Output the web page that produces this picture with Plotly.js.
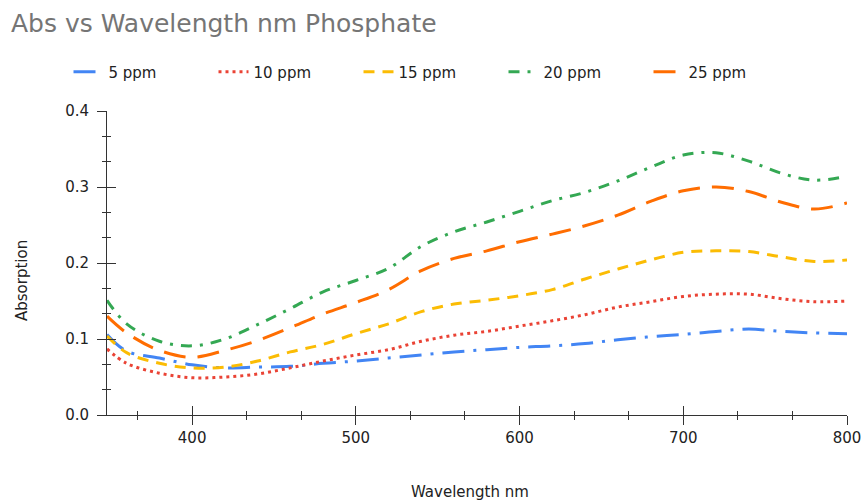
<!DOCTYPE html>
<html>
<head>
<meta charset="utf-8">
<script src="https://cdn.plot.ly/plotly-3.0.1.min.js"></script>
<style>html,body{margin:0;padding:0;background:#fff;}#chart{width:862px;height:500px;}</style>
</head>
<body>
<div id="chart"></div>
<script>
// Wavelength (nm)
const wavelength = [348,360,380,400,420,440,460,480,500,520,540,560,580,600,620,640,660,680,700,720,740,760,780,800];
// Absorption series
const ppm5  = [0.106,0.084,0.075,0.066,0.062,0.063,0.064,0.068,0.071,0.075,0.079,0.083,0.086,0.089,0.091,0.094,0.099,0.103,0.106,0.110,0.113,0.110,0.108,0.107];
const ppm10 = [0.087,0.068,0.055,0.049,0.050,0.054,0.062,0.071,0.079,0.086,0.097,0.105,0.110,0.117,0.124,0.132,0.142,0.149,0.156,0.159,0.159,0.153,0.149,0.150];
const ppm15 = [0.104,0.082,0.068,0.062,0.063,0.071,0.083,0.093,0.107,0.120,0.136,0.146,0.151,0.157,0.165,0.179,0.192,0.204,0.214,0.216,0.215,0.208,0.202,0.204];
const ppm20 = [0.151,0.120,0.097,0.091,0.100,0.119,0.140,0.162,0.177,0.193,0.222,0.241,0.254,0.268,0.282,0.293,0.308,0.326,0.342,0.345,0.334,0.318,0.309,0.314];
const ppm25 = [0.130,0.108,0.085,0.076,0.085,0.098,0.115,0.133,0.148,0.165,0.190,0.206,0.216,0.228,0.238,0.249,0.263,0.281,0.295,0.300,0.294,0.280,0.271,0.279];
const seriesNames = ['5 ppm','10 ppm','15 ppm','20 ppm','25 ppm'];
const xTickVals = [400,500,600,700,800];
const yTickVals = [0,0.1,0.2,0.3,0.4];

const FONT = 'DejaVu Sans, Arial, sans-serif';
const colors = ['#4285F4','#EA4335','#FBBC04','#34A853','#FF6D01'];
const dashes = ['22px,9px,3px,9px','3px,4px','11px,8px','11px,8px,3px,8px','22px,12px'];
const data = [ppm5,ppm10,ppm15,ppm20,ppm25].map((ys,i)=>({
  type:'scatter', mode:'lines', name:seriesNames[i], x:wavelength, y:ys,
  line:{color:colors[i], width:3, dash:dashes[i], shape:'spline', smoothing:1}
}));
// invisible carrier trace so the overlaid (inside-tick) axes get drawn
data.push({type:'scatter', mode:'none', x:[xTickVals[0]], y:[yTickVals[0]], xaxis:'x2', yaxis:'y2', showlegend:false, hoverinfo:'skip'});

const xMinor=[], yMinor=[];
for (let k=-3;k<=12;k++){ const v=400+k*100/3; if (k%3!==0 && v>=348 && v<=800) xMinor.push(v); }
for (let k=1;k<12;k++){ if (k%3!==0) yMinor.push(k*0.1/3); }

const axCommon = {showgrid:false, zeroline:false, linecolor:'#333', linewidth:1, tickcolor:'#333', tickwidth:1};
const layout = {
  width:862, height:500,
  margin:{l:107, r:15, t:111, b:85},
  paper_bgcolor:'#fff', plot_bgcolor:'#fff',
  font:{family:FONT, color:'#222', size:15},
  title:{text:'Abs vs Wavelength nm Phosphate', font:{family:FONT, size:25, color:'#757575'},
         x:11/862, xanchor:'left', xref:'container', y:1-23/500, yanchor:'middle', yref:'container'},
  showlegend:true,
  legend:{orientation:'h', xref:'container', yref:'container', x:0.5, xanchor:'center', y:1-72/500, yanchor:'middle',
          font:{family:FONT, size:15, color:'#222'}, entrywidth:100},
  xaxis:Object.assign({}, axCommon, {range:[348,800], tickmode:'array', tickvals:xTickVals, ticks:'outside', ticklen:9,
         showline:true, tickfont:{family:FONT,size:15,color:'#222'},
         minor:{tickmode:'array', tickvals:xMinor, ticks:'outside', ticklen:4, tickcolor:'#333'}}),
  yaxis:Object.assign({}, axCommon, {range:[0,0.4], tickmode:'array', tickvals:yTickVals, tickformat:'.1f', ticks:'outside', ticklen:9,
         showline:true, tickfont:{family:FONT,size:15,color:'#222'}, ticklabelstandoff:5,
         minor:{tickmode:'array', tickvals:yMinor, ticks:'outside', ticklen:4, tickcolor:'#333'}}),
  xaxis2:Object.assign({}, axCommon, {overlaying:'x', matches:'x', anchor:'y2', side:'bottom', tickmode:'array', tickvals:xTickVals,
         ticks:'inside', ticklen:9, showticklabels:false, showline:false,
         minor:{tickmode:'array', tickvals:xMinor, ticks:'inside', ticklen:4, tickcolor:'#333'}}),
  yaxis2:Object.assign({}, axCommon, {overlaying:'y', matches:'y', anchor:'x2', side:'left', tickmode:'array', tickvals:yTickVals,
         ticks:'inside', ticklen:9, showticklabels:false, showline:false,
         minor:{tickmode:'array', tickvals:yMinor, ticks:'inside', ticklen:4, tickcolor:'#333'}}),
  annotations:[
    {text:'Wavelength nm', xref:'paper', yref:'paper', x:(470-107)/740, y:(415-492)/304, showarrow:false,
     xanchor:'center', yanchor:'middle', font:{family:FONT,size:15,color:'#222'}},
    {text:'Absorption', xref:'paper', yref:'paper', x:(22-107)/740, y:(415-281)/304, showarrow:false, textangle:-90,
     xanchor:'center', yanchor:'middle', font:{family:FONT,size:15,color:'#222'}}
  ]
};
Plotly.newPlot('chart', data, layout, {displayModeBar:false, staticPlot:true});
</script>
</body>
</html>
